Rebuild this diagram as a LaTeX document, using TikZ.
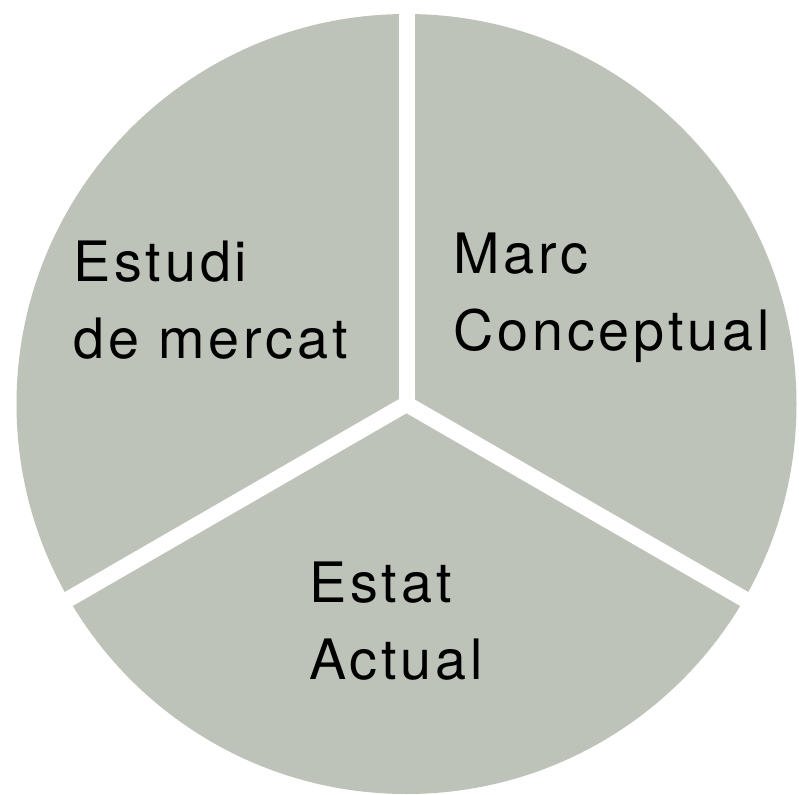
\documentclass[tikz,border=0pt]{standalone}
\usepackage{fontspec}
\setmainfont{TeX Gyre Heros}[LetterSpace=7]
\usepackage{tikz}
\usetikzlibrary{positioning,calc}
\definecolor{sagegray}{RGB}{190,195,186}

\begin{document}
\begin{tikzpicture}[x=0.02cm,y=-0.02cm]
    \useasboundingbox (0,0) rectangle (799,795);
    % Pie
    \coordinate (centre) at (406.5,404);
    \fill[sagegray] (centre) circle[radius=390];
    \coordinate (gaptop) at ($(centre)+(270:400)$);
    \coordinate (gapleft) at ($(centre)+(150:400)$);
    \coordinate (gapright) at ($(centre)+(30:400)$);
    
    % Gaps
    \draw[white,line width=0.32cm] (centre) -- (gaptop);
    \draw[white,line width=0.32cm] (centre) -- (gapleft);
    \draw[white,line width=0.32cm] (centre) -- (gapright);
    
    % Labels
    \node[align=left,anchor=base west,inner sep=0pt,font=\fontsize{31.7}{43.5}\selectfont] (estudi) at (73,358) {Estudi\\de mercat};
    \node[align=left,anchor=base west,inner sep=0pt,font=\fontsize{31.7}{43.5}\selectfont] (marc) at (453,350) {Marc\\Conceptual};
    \node[align=left,anchor=base west,inner sep=0pt,font=\fontsize{31.7}{43.5}\selectfont] (estat) at (309,679) {Estat\\Actual};
\end{tikzpicture}
\end{document}
